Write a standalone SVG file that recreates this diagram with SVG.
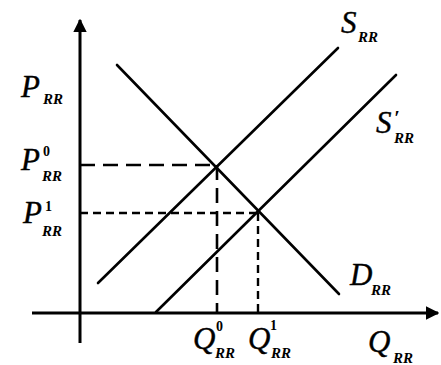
<svg xmlns="http://www.w3.org/2000/svg" width="441" height="365" viewBox="0 0 441 365">
<style>
.m{font-family:"Liberation Serif","Times New Roman",serif;font-style:italic;font-size:31px;fill:#000;stroke:#000;stroke-width:0.4}
.s{font-family:"Liberation Serif","Times New Roman",serif;font-style:italic;font-weight:bold;font-size:15px;fill:#000}
.u{font-family:"Liberation Serif","Times New Roman",serif;font-weight:bold;font-size:14px;fill:#000}
.pr{font-family:"Liberation Serif","Times New Roman",serif;font-style:italic;font-weight:bold;font-size:20px;fill:#000}
.ax{stroke:#000;stroke-width:3;fill:none}
.ln{stroke:#000;stroke-width:2.6;fill:none;stroke-linecap:round}
.d0{stroke:#000;stroke-width:2.6;fill:none;stroke-dasharray:15 8}
.d1{stroke:#000;stroke-width:2.4;fill:none;stroke-dasharray:8 5}
</style>
<defs>
<marker id="arr" viewBox="0 0 10 10" refX="9" refY="5" markerWidth="4.5" markerHeight="4.5" orient="auto" markerUnits="strokeWidth">
<path d="M0,0 L10,5 L0,10 Z" fill="#000"/>
</marker>
</defs>
<g id="connectors">
<line id="y-axis" class="ax" x1="80" y1="343" x2="80" y2="20" marker-end="url(#arr)"/>
<line id="x-axis" class="ax" x1="32" y1="313" x2="438" y2="313" marker-end="url(#arr)"/>
<line id="S" class="ln" x1="98" y1="283" x2="338" y2="48"/>
<line id="S-prime" class="ln" x1="156" y1="312" x2="396" y2="75"/>
<line id="D" class="ln" x1="117" y1="65" x2="339" y2="294"/>
<line class="d0" x1="80" y1="165" x2="217" y2="165"/>
<line class="d0" x1="217" y1="165" x2="217" y2="313"/>
<line class="d1" x1="80" y1="213" x2="258" y2="213"/>
<line class="d1" x1="258" y1="213" x2="258" y2="313"/>
</g>
<g id="label-P">
<text class="m" x="21" y="97">P</text><text class="s" x="43" y="104">RR</text>
</g>
<g id="label-P0">
<text class="m" x="21" y="170">P</text><text class="u" x="43" y="156">0</text><text class="s" x="42" y="181">RR</text>
</g>
<g id="label-P1">
<text class="m" x="23" y="223">P</text><text class="u" x="45" y="211">1</text><text class="s" x="42" y="236">RR</text>
</g>
<g id="label-Q0">
<text class="m" x="193" y="349">Q</text><text class="u" x="216" y="331">0</text><text class="s" x="215" y="358">RR</text>
</g>
<g id="label-Q1">
<text class="m" x="248" y="349">Q</text><text class="u" x="270" y="330">1</text><text class="s" x="271" y="358">RR</text>
</g>
<g id="label-Q">
<text class="m" x="368" y="352">Q</text><text class="s" x="393" y="363">RR</text>
</g>
<g id="label-S">
<text class="m" x="341" y="33">S</text><text class="s" x="358" y="42">RR</text>
</g>
<g id="label-S-prime">
<text class="m" x="376" y="133">S</text><text class="pr" x="394" y="125">′</text><text class="s" x="394" y="143">RR</text>
</g>
<g id="label-D">
<text class="m" x="350" y="285">D</text><text class="s" x="371" y="295">RR</text>
</g>
</svg>
